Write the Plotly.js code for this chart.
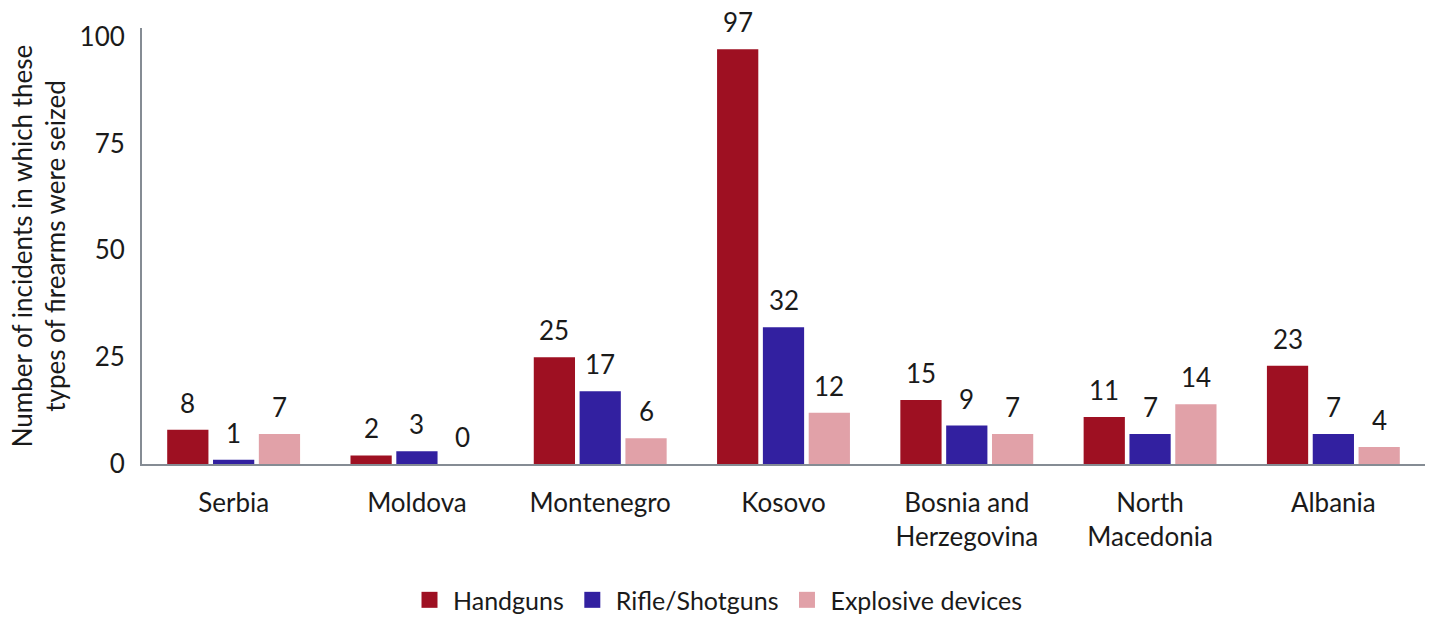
<!DOCTYPE html>
<html>
<head>
<meta charset="utf-8">
<script src="https://cdn.plot.ly/plotly-3.0.1.min.js"></script>
<style>html,body{margin:0;padding:0;background:#fff;}#chart{width:1433px;height:618px;}</style>
</head>
<body>
<div id="chart"></div>
<script>
var categories = ["Serbia", "Moldova", "Montenegro", "Kosovo", "Bosnia and<br>Herzegovina", "North<br>Macedonia", "Albania"];
var seriesNames = ["Handguns", "Rifle/Shotguns", "Explosive devices"];
var handguns = [8, 2, 25, 97, 15, 11, 23];
var rifles = [1, 3, 17, 32, 9, 7, 7];
var explosives = [7, 0, 6, 12, 7, 14, 4];
var colors = ["#9E1022", "#3220A0", "#E1A1A8"];

var allSeries = [handguns, rifles, explosives];
var M = {l: 142, r: 8, t: 28, b: 154, autoexpand: false};
var W = 1433, H = 618;
var bargap = 0.25;
var FONT = "Lato, 'Open Sans', sans-serif";
var FS = 26;
var TXT = "#1a1a1a";

var traces = allSeries.map(function (vals, i) {
  return {
    type: "bar",
    name: seriesNames[i],
    x: categories,
    y: vals,
    marker: {color: colors[i]},
    showlegend: false,
    hoverinfo: "x+y+name"
  };
});
// legend-only entries with larger square swatches
seriesNames.forEach(function (n, i) {
  traces.push({
    type: "scatter", mode: "markers", name: n,
    x: [null], y: [null],
    marker: {symbol: "square", size: 22, color: colors[i]},
    showlegend: true, hoverinfo: "skip"
  });
});

var plotW = W - M.l - M.r;
var catW = plotW / categories.length;
var slot = catW * (1 - bargap) / allSeries.length;
var annotations = [];
allSeries.forEach(function (vals, i) {
  vals.forEach(function (v, j) {
    annotations.push({
      x: categories[j], y: v, xref: "x", yref: "y",
      text: String(v), showarrow: false,
      xanchor: "center", yanchor: "bottom",
      xshift: (i - (allSeries.length - 1) / 2) * slot,
      yshift: 9,
      font: {family: FONT, size: FS, color: TXT}
    });
  });
});

var layout = {
  width: W, height: H,
  margin: M,
  paper_bgcolor: "#fff", plot_bgcolor: "#fff",
  font: {family: FONT, size: FS, color: TXT},
  barmode: "group",
  bargap: bargap,
  bargroupgap: 0.1,
  showlegend: true,
  legend: {
    orientation: "h", xref: "container", yref: "container",
    x: 0.5, xanchor: "center", y: 0.029, yanchor: "middle",
    font: {family: FONT, size: 25, color: TXT},
    itemsizing: "trace", itemwidth: 37, tracegroupgap: 0
  },
  xaxis: {
    type: "category",
    showline: true, linecolor: "#858C94", linewidth: 2,
    showgrid: false, zeroline: false, ticks: "",
    tickfont: {family: FONT, size: FS, color: TXT},
    ticklabelstandoff: 15
  },
  yaxis: {
    range: [0, 102],
    tickvals: [0, 25, 50, 75, 100],
    showline: true, linecolor: "#858C94", linewidth: 2,
    showgrid: false, zeroline: false, ticks: "",
    tickfont: {family: FONT, size: FS, color: TXT},
    ticklabelstandoff: 10,
    title: {text: "Number of incidents in which these<br>types of firearms were seized",
            font: {family: FONT, size: FS, color: TXT}, standoff: 6}
  },
  annotations: annotations
};

Plotly.newPlot("chart", traces, layout, {displayModeBar: false, staticPlot: true});
</script>
</body>
</html>
